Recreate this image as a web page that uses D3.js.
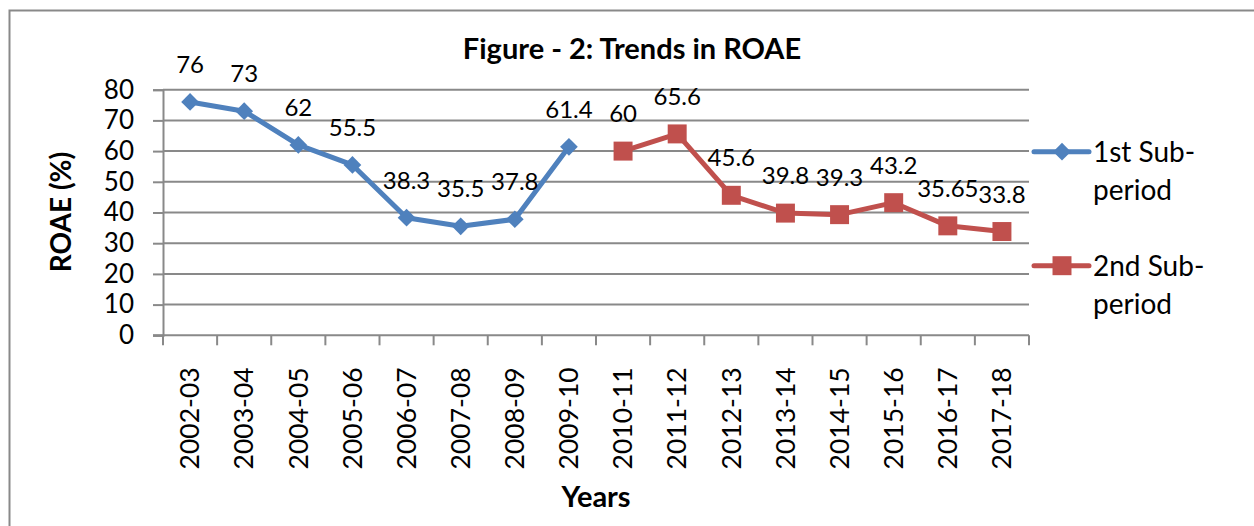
<!DOCTYPE html>
<html>
<head>
<meta charset="utf-8">
<script src="https://cdn.jsdelivr.net/npm/d3@7"></script>
<style>
  html, body { margin: 0; padding: 0; background: #fff; }
  svg { display: block; font-family: Lato, "Open Sans", sans-serif; }
</style>
</head>
<body>
<div id="chart"></div>
<script>
// chart data
const years = ["2002-03", "2003-04", "2004-05", "2005-06", "2006-07", "2007-08", "2008-09", "2009-10",
    "2010-11", "2011-12", "2012-13", "2013-14", "2014-15", "2015-16", "2016-17", "2017-18"];
const firstYears = years.slice(0, 8);
const secondYears = years.slice(8);
const firstPeriod = [76, 73, 62, 55.5, 38.3, 35.5, 37.8, 61.4];
const secondPeriod = [60, 65.6, 45.6, 39.8, 39.3, 43.2, 35.65, 33.8];
const yTicks = [0, 10, 20, 30, 40, 50, 60, 70, 80];
const seriesNames = [["1st Sub-", "period"], ["2nd Sub-", "period"]];

const W = 1254, H = 526;
const plotLeft = 163, plotRight = 1029, plotTop = 89.7, plotBottom = 335.3;
const blue = "#4F81BD", red = "#C0504D", grid = "#898989";

const svg = d3.select("#chart").append("svg")
    .attr("width", W)
    .attr("height", H);

// outer frame (runs off the right and bottom edges)
svg.append("rect")
    .attr("x", 9.5).attr("y", 10.5)
    .attr("width", 1400).attr("height", 700)
    .style("fill", "none")
    .style("stroke", grid)
    .style("stroke-width", 2);

const x = d3.scaleBand().domain(years).range([plotLeft, plotRight]).padding(0);
const y = d3.scaleLinear().domain([0, 80]).range([plotBottom, plotTop]);
const cx = d => x(d) + x.bandwidth() / 2;

// gridlines + y axis
const yAxis = svg.append("g")
    .attr("transform", `translate(${plotLeft},0)`)
    .call(d3.axisLeft(y).tickValues(yTicks).tickSize(10).tickPadding(19));
yAxis.select(".domain").style("stroke", grid).style("stroke-width", 2);
yAxis.selectAll(".tick line").style("stroke", grid).style("stroke-width", 2);
yAxis.selectAll(".tick text")
    .style("font-family", "Lato")
    .style("font-size", "26px")
    .style("fill", "#000");

svg.append("g")
    .selectAll("line")
    .data(yTicks.filter(t => t > 0))
    .enter()
    .append("line")
    .attr("x1", plotLeft).attr("x2", plotRight)
    .attr("y1", d => y(d)).attr("y2", d => y(d))
    .style("stroke", grid)
    .style("stroke-width", 2);

// x axis line and boundary ticks
svg.append("line")
    .attr("x1", plotLeft - 10).attr("x2", plotRight)
    .attr("y1", y(0)).attr("y2", y(0))
    .style("stroke", grid)
    .style("stroke-width", 2);

svg.append("g")
    .selectAll("line")
    .data(years.map(d => x(d)).concat([plotRight]))
    .enter()
    .append("line")
    .attr("x1", d => d).attr("x2", d => d)
    .attr("y1", y(0)).attr("y2", y(0) + 10)
    .style("stroke", grid)
    .style("stroke-width", 2);

const xAxis = svg.append("g")
    .attr("transform", `translate(0,${plotBottom})`)
    .call(d3.axisBottom(x).tickSize(0));
xAxis.select(".domain").remove();
xAxis.selectAll(".tick text")
    .attr("transform", "rotate(-90)")
    .attr("x", -32)
    .attr("y", 0)
    .attr("dy", "0.35em")
    .style("text-anchor", "end")
    .style("font-family", "Lato")
    .style("font-size", "26.5px")
    .style("fill", "#000");

// titles
svg.append("text")
    .attr("x", 632).attr("y", 59)
    .style("text-anchor", "middle")
    .style("font-size", "29px")
    .style("font-weight", "bold")
    .text("Figure - 2: Trends in ROAE");

svg.append("text")
    .attr("transform", "translate(71,212) rotate(-90)")
    .style("text-anchor", "middle")
    .style("font-size", "28px")
    .style("font-weight", "bold")
    .text("ROAE (%)");

svg.append("text")
    .attr("x", 596).attr("y", 507)
    .style("text-anchor", "middle")
    .style("font-size", "29px")
    .style("font-weight", "bold")
    .text("Years");

// series
const line = d3.line().x(d => cx(d.year)).y(d => y(d.value));
const diamond = d3.symbol().type(d3.symbolDiamond2).size(200);
const square = d3.symbol().type(d3.symbolSquare).size(360);

function drawSeries(yrs, values, color, symbol) {
    const pts = yrs.map((yr, i) => ({ year: yr, value: values[i] }));

    svg.append("path")
        .datum(pts)
        .attr("d", line)
        .style("fill", "none")
        .style("stroke", color)
        .style("stroke-width", 5)
        .style("stroke-linejoin", "round");

    svg.append("g")
        .selectAll("path")
        .data(pts)
        .enter()
        .append("path")
        .attr("d", symbol)
        .attr("transform", d => `translate(${cx(d.year)},${y(d.value)})`)
        .style("fill", color);

    svg.append("g")
        .selectAll("text")
        .data(pts)
        .enter()
        .append("text")
        .attr("x", d => cx(d.year))
        .attr("y", d => y(d.value) - 29)
        .style("text-anchor", "middle")
        .style("font-size", "24px")
        .style("fill", "#000")
        .text(d => String(d.value));
}

drawSeries(firstYears, firstPeriod, blue, diamond);
drawSeries(secondYears, secondPeriod, red, square);

// legend
const legend = svg.append("g");
const legendY = [151.7, 265.7];
[[blue, diamond], [red, square]].forEach((s, i) => {
    const g = legend.append("g").attr("transform", `translate(1034,${legendY[i]})`);
    g.append("line")
        .attr("x1", 0).attr("x2", 55)
        .style("stroke", s[0])
        .style("stroke-width", 5)
        .style("stroke-linecap", "round");
    g.append("path")
        .attr("d", s[1])
        .attr("transform", "translate(28,0)")
        .style("fill", s[0]);
    g.selectAll("text")
        .data(seriesNames[i])
        .enter()
        .append("text")
        .attr("x", 59)
        .attr("y", (d, j) => 10 + j * 38)
        .style("font-size", "28px")
        .style("fill", "#000")
        .text(d => d);
});
</script>
</body>
</html>
